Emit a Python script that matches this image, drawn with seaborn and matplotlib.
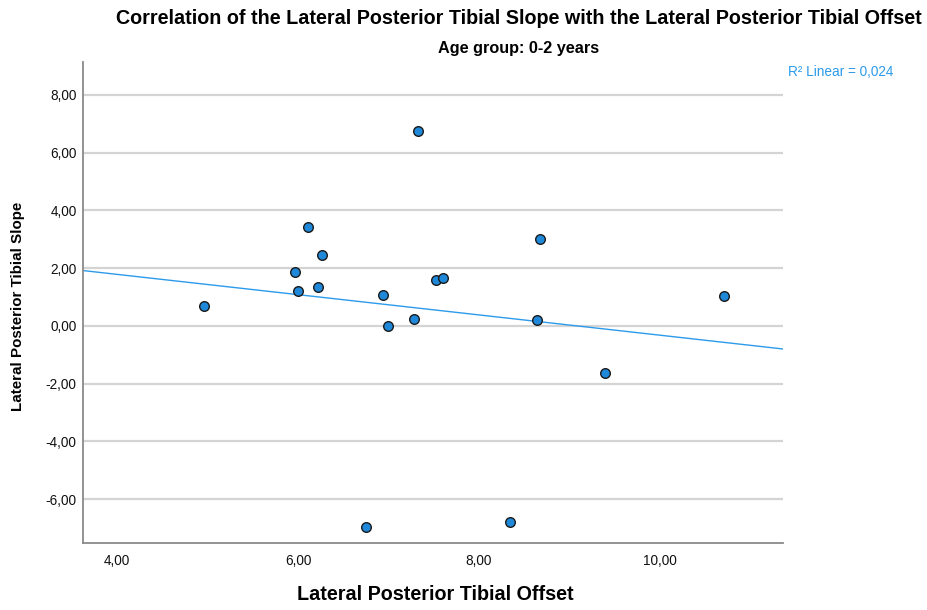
import numpy as np
import pandas as pd
import matplotlib
matplotlib.use("Agg")
import matplotlib.pyplot as plt
import seaborn as sns
from matplotlib.ticker import FuncFormatter

# Data
offset = [4.96, 5.97, 6.00, 6.11, 6.22, 6.27, 6.94, 7.00, 7.28, 7.33, 7.52, 7.60,
          8.64, 8.68, 9.39, 10.71, 6.75, 8.34]
slope = [0.69, 1.87, 1.21, 3.43, 1.35, 2.46, 1.07, 0.00, 0.24, 6.75, 1.59, 1.66,
         0.21, 3.01, -1.63, 1.04, -6.96, -6.79]
x_ticks = [4, 6, 8, 10]
y_ticks = [-6, -4, -2, 0, 2, 4, 6, 8]

df = pd.DataFrame({"offset": offset, "slope": slope})

sns.set_style("white")
plt.rcParams["font.family"] = ["Liberation Sans", "DejaVu Sans"]

fig = plt.figure(figsize=(9.27, 6.10), dpi=100)
ax = fig.add_axes([83/927, 1-543/610, 700/927, (543-62)/610])
ax.set_xlim(3.624, 11.36)
ax.set_ylim(-7.515, 9.14)

line_color = "#2C9BEA"
sns.regplot(data=df, x="offset", y="slope", ax=ax, ci=None, truncate=False,
            scatter=False, line_kws={"color": line_color, "lw": 1.0})
sns.scatterplot(data=df, x="offset", y="slope", ax=ax, s=48, color="#1F88D9",
                edgecolor="#1a1a1a", linewidth=1.0, zorder=5)

ax.set_xticks(x_ticks)
ax.set_yticks(y_ticks)
fmt = FuncFormatter(lambda v, p: f"{v:.2f}".replace(".", ","))
ax.xaxis.set_major_formatter(fmt)
ax.yaxis.set_major_formatter(fmt)
ax.tick_params(axis="both", length=0, labelsize=9.8, colors="#111111")
ax.tick_params(axis="x", pad=8)
ax.tick_params(axis="y", pad=4.5)
ax.yaxis.grid(True, color="#d4d4d4", lw=1.6)
ax.xaxis.grid(False)
for s in ["top", "right"]:
    ax.spines[s].set_visible(False)
for s in ["left", "bottom"]:
    ax.spines[s].set_color("#8a8a8a")
    ax.spines[s].set_linewidth(1.3)
ax.set_xlabel("")
ax.set_ylabel("")

fig.text(435/927, 1-595/610, "Lateral Posterior Tibial Offset", ha="center", va="center",
         fontsize=14.2, fontweight="bold", color="black")
fig.text(18/927, 1-306/610, "Lateral Posterior Tibial Slope", ha="center", va="center",
         rotation=90, fontsize=10.9, fontweight="bold", color="black")

fig.text(518.5/927, 1-18/610, "Correlation of the Lateral Posterior Tibial Slope with the Lateral Posterior Tibial Offset",
         ha="center", va="center", fontsize=14.2, fontweight="bold", color="black")
fig.text(519/927, 1-48/610, "Age group: 0-2 years", ha="center", va="center",
         fontsize=11.7, fontweight="bold", color="black")
fig.text(788/927, 1-72/610, "R² Linear = 0,024", ha="left", va="center",
         fontsize=9.8, color=line_color)

fig.savefig("out.png", dpi=100)
